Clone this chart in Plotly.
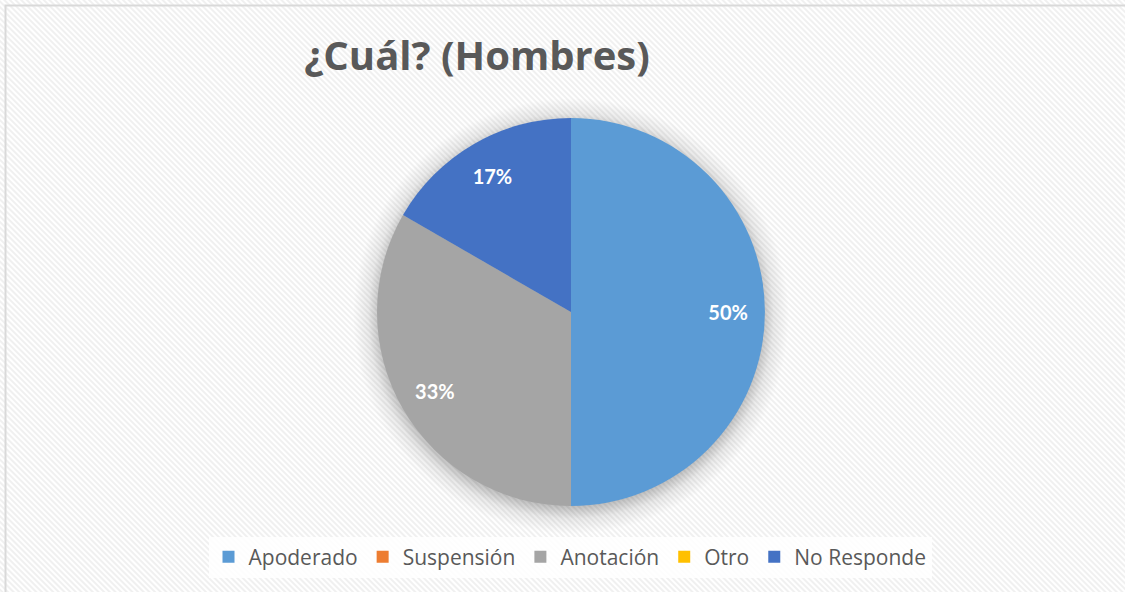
import base64
import plotly.graph_objects as go

categories = ["Apoderado", "Suspensión", "Anotación", "Otro", "No Responde"]
values = [3, 0, 2, 0, 1]
colors = ["#5B9BD5", "#ED7D31", "#A5A5A5", "#FFC000", "#4472C4"]
title_text = "¿Cuál? (Hombres)"

W, H = 1125, 592
total = sum(values)
labels_txt = [f"{round(v / total * 100)}%" if v else "" for v in values]

# background: diagonal hatch, thin border (top/left), soft shadow behind pie
cx, cy, r = 571, 312, 194
svg = f"""<svg xmlns='http://www.w3.org/2000/svg' width='{W}' height='{H}' viewBox='0 0 {W} {H}'>
<defs>
<pattern id='p' width='4' height='4' patternUnits='userSpaceOnUse' patternTransform='rotate(45)'>
<rect width='4' height='4' fill='#ffffff'/>
<rect width='4' height='2' fill='#f0f0f0'/>
</pattern>
<radialGradient id='g' cx='{cx}' cy='{cy + 4}' r='{r + 24}' gradientUnits='userSpaceOnUse'>
<stop offset='0.86' stop-color='#000' stop-opacity='0.28'/>
<stop offset='0.93' stop-color='#000' stop-opacity='0.08'/>
<stop offset='1' stop-color='#000' stop-opacity='0'/>
</radialGradient>
</defs>
<rect width='{W}' height='{H}' fill='url(#p)'/>
<path d='M5.5,{H} V5.5 H{W}' fill='none' stroke='#d9d9d9' stroke-width='2'/>
<circle cx='{cx}' cy='{cy + 4}' r='{r + 24}' fill='url(#g)'/>
</svg>"""
src = "data:image/svg+xml;base64," + base64.b64encode(svg.encode()).decode()

dom_x = [(cx - r) / W, (cx + r) / W]
dom_y = [1 - (cy + r) / H, 1 - (cy - r) / H]

FONT = "'Open Sans', Lato, sans-serif"

fig = go.Figure()
fig.add_trace(go.Pie(
    labels=categories, values=values, sort=False, direction="clockwise", rotation=0,
    marker=dict(colors=colors, line=dict(width=0)),
    textinfo="none", domain=dict(x=dom_x, y=dom_y), hoverinfo="label+percent",
))
# transparent ring carrying the data labels, placed toward the outer rim
fig.add_trace(go.Pie(
    labels=categories, values=values, sort=False, direction="clockwise", rotation=0,
    hole=0.62, showlegend=False,
    marker=dict(colors=["rgba(0,0,0,0)"] * len(values), line=dict(width=0)),
    text=labels_txt, textinfo="text", textposition="inside",
    insidetextorientation="horizontal",
    textfont=dict(family="Lato, 'Open Sans', sans-serif", size=20, color="white", weight="bold"),
    domain=dict(x=dom_x, y=dom_y), hoverinfo="skip",
))

fig.update_layout(
    width=W, height=H,
    margin=dict(l=0, r=0, t=0, b=0),
    paper_bgcolor="white", plot_bgcolor="white",
    images=[dict(source=src, xref="paper", yref="paper", x=0, y=1, sizex=1, sizey=1,
                 xanchor="left", yanchor="top", sizing="stretch", layer="below")],
    title=dict(text=title_text, x=477 / W, xanchor="center", y=1 - 56 / H, yanchor="middle",
               font=dict(family=FONT, size=40, color="#595959", weight="bold")),
    legend=dict(orientation="h", x=570 / W, xanchor="center", y=1 - 557 / H, yanchor="middle",
                bgcolor="rgba(255,255,255,0.85)", font=dict(family=FONT, size=21, color="#595959"),
                itemwidth=30, itemsizing="constant", traceorder="normal"),
    showlegend=True,
)

fig.write_html("out.html", config={"displayModeBar": False},
               post_script=("document.body.style.margin='0';document.body.style.overflow='hidden';"
                            "document.documentElement.style.overflow='hidden';"))
